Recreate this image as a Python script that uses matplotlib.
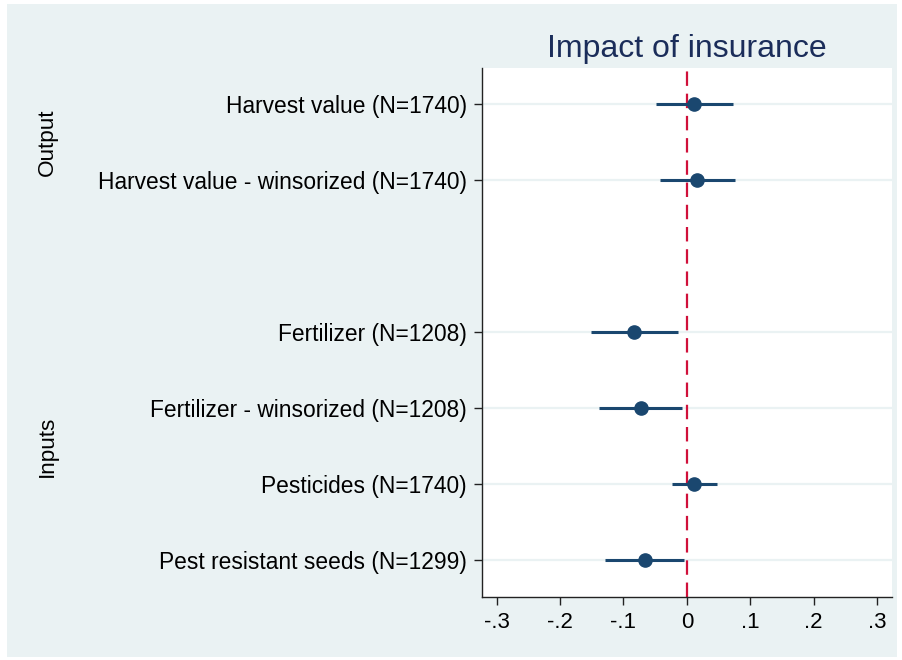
import matplotlib
matplotlib.use("Agg")
import matplotlib.pyplot as plt
from matplotlib.patches import Rectangle
import matplotlib.transforms as mtransforms

plt.rcParams['font.family'] = ['Liberation Sans', 'DejaVu Sans']

labels = [
    "Harvest value (N=1740)",
    "Harvest value - winsorized (N=1740)",
    "Fertilizer (N=1208)",
    "Fertilizer - winsorized (N=1208)",
    "Pesticides (N=1740)",
    "Pest resistant seeds (N=1299)",
]
positions = [1, 2, 4, 5, 6, 7]
coef = [0.0115, 0.016, -0.084, -0.073, 0.0115, -0.066]
ci_low = [-0.048, -0.042, -0.151, -0.138, -0.023, -0.129]
ci_high = [0.073, 0.076, -0.014, -0.007, 0.048, -0.004]

groups = ["Output", "Inputs"]
group_centers = [1.5, 5.5]

xticks = [-0.3, -0.2, -0.1, 0, 0.1, 0.2, 0.3]
xticklabels = ["-.3", "-.2", "-.1", "0", ".1", ".2", ".3"]

bg = "#EAF2F3"
navy = "#1A476F"
red = "#D0103A"

fig = plt.figure(figsize=(9.02, 6.6), dpi=100)
fig.patch.set_facecolor("white")
fig.patches.append(Rectangle((7/902, 1 - 657/660), (897-7)/902, (657-4)/660,
                             transform=fig.transFigure, facecolor=bg,
                             edgecolor="none", zorder=-10))

ax = fig.add_axes([482/902, 1 - 597/660, (891.7-482)/902, (597-67.7)/660])
ax.set_facecolor("white")

for p in positions:
    ax.axhline(p, color=bg, lw=1.6, zorder=1)

ax.axvline(0, color=red, lw=1.6, dashes=(6.5, 3.5), zorder=2)

for p, c, lo, hi in zip(positions, coef, ci_low, ci_high):
    ax.plot([lo, hi], [p, p], color=navy, lw=2.2, solid_capstyle='butt', zorder=3)
ax.plot(coef, positions, 'o', color=navy, markersize=9.5, zorder=4)

ax.set_xlim(-0.323, 0.323)
ax.set_ylim(7.48, 0.52)
ax.set_yticks(positions)
ax.set_yticklabels(labels, fontsize=16.4)
ax.set_xticks(xticks)
ax.set_xticklabels(xticklabels, fontsize=16)
ax.tick_params(axis='both', direction='out', length=6, width=1, color='#222222', pad=5)

for s in ['top', 'right']:
    ax.spines[s].set_visible(False)
for s in ['left', 'bottom']:
    ax.spines[s].set_color('#222222')
    ax.spines[s].set_linewidth(1)

ax.set_title("Impact of insurance", fontsize=23, color="#1B2D5A", pad=8)

trans = mtransforms.blended_transform_factory(fig.transFigure, ax.transData)
for g, yc in zip(groups, group_centers):
    ax.text(47/902, yc, g, transform=trans, rotation=90, ha='center', va='center',
            fontsize=16.2, color='black')

fig.savefig("out.png", dpi=100, facecolor=fig.get_facecolor())
